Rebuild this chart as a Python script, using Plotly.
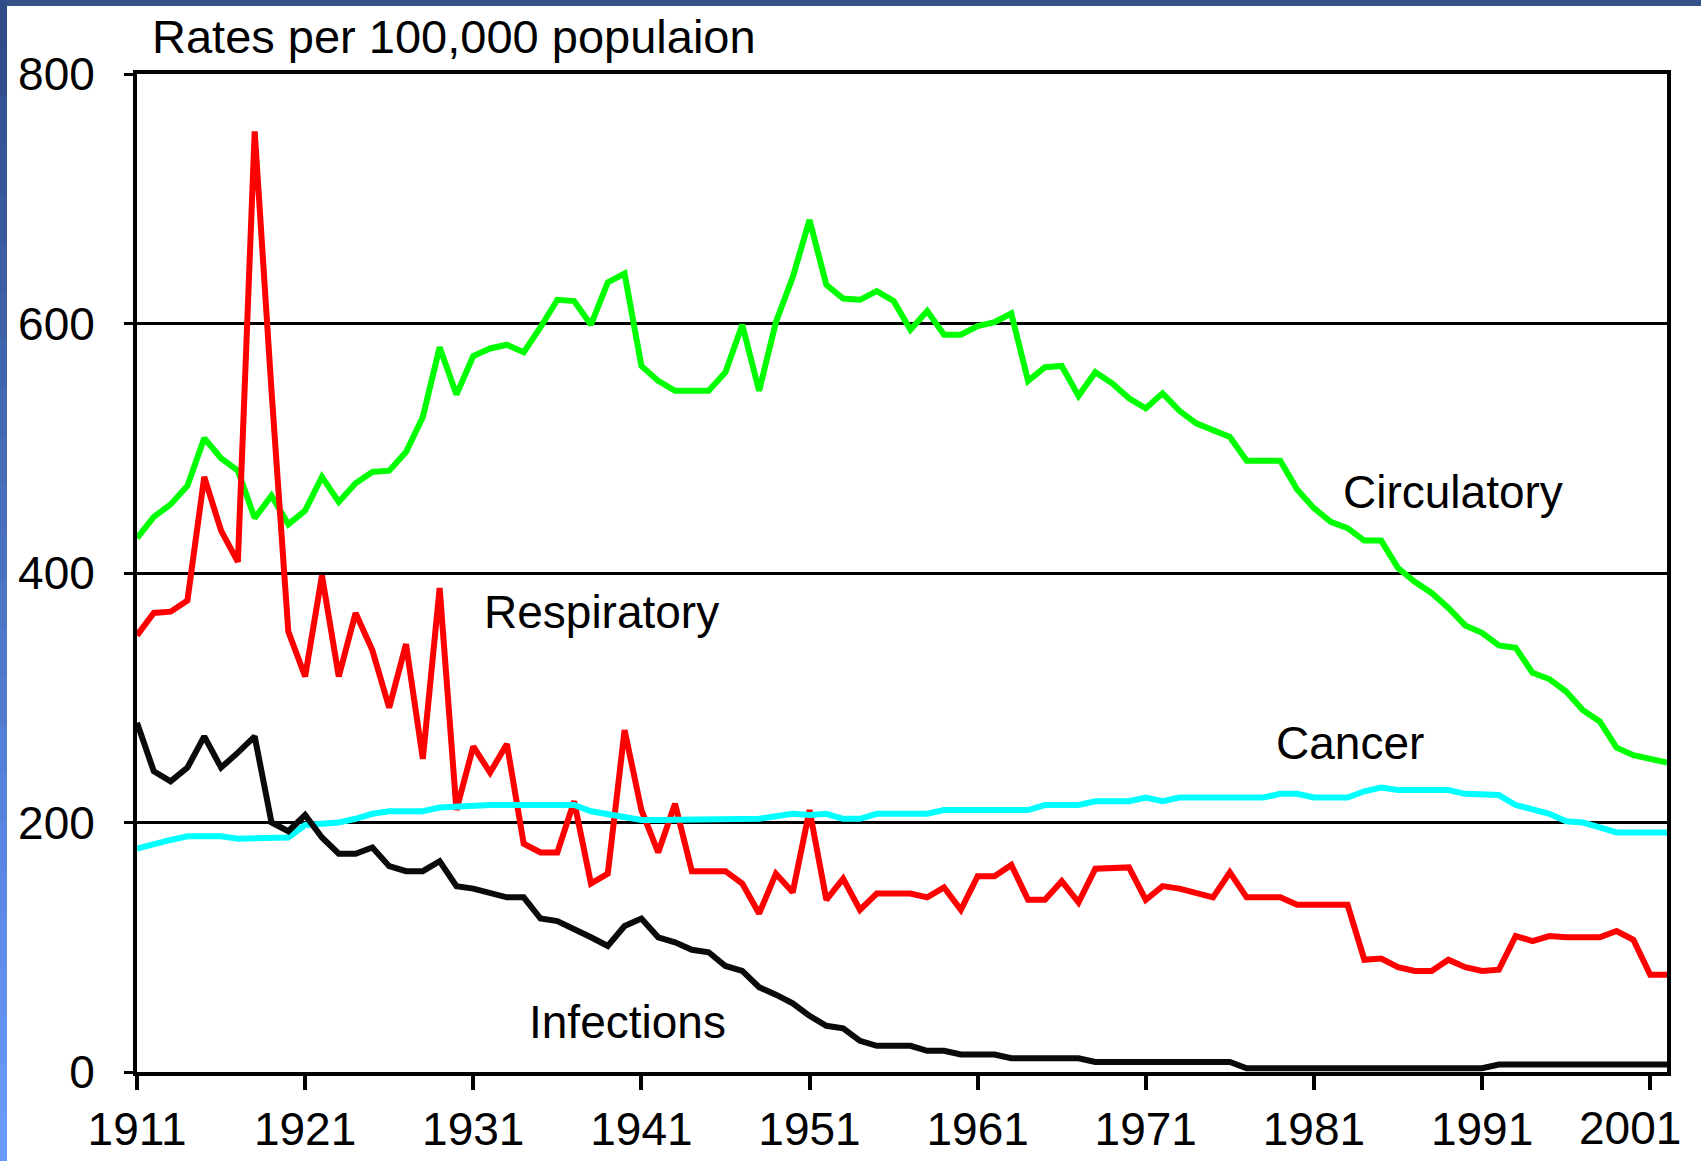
import plotly.graph_objects as go

years = list(range(1911, 2003))

circulatory = [
    428, 445, 455, 470, 508, 492, 482, 444, 462, 439,
    450, 477, 457, 472, 481, 482, 497, 525, 581, 543,
    574, 580, 583, 577, 597, 619, 618, 599, 633, 640,
    566, 554, 546, 546, 546, 561, 599, 546, 601, 637,
    683, 631, 620, 619, 626, 618, 595, 610, 591, 591,
    598, 601, 608, 554, 565, 566, 542, 561, 552, 540,
    532, 544, 530, 520, 514, 509, 490, 490, 490, 467,
    452, 441, 436, 426, 426, 404, 393, 384, 372, 358,
    352, 342, 340, 320, 315, 305, 290, 281, 260, 254,
    251, 248,
]

respiratory = [
    350, 368, 369, 378, 477, 434, 409, 754, 546, 353,
    317, 398, 317, 368, 338, 292, 343, 251, 388, 210,
    261, 240, 263, 183, 176, 176, 217, 151, 159, 274,
    210, 176, 215, 161, 161, 161, 151, 127, 159, 144,
    210, 138, 155, 130, 143, 143, 143, 140, 148, 130,
    157, 157, 166, 138, 138, 153, 136, 163, 164, 164,
    138, 149, 147, 143, 140, 160, 140, 140, 140, 134,
    134, 134, 134, 90, 91, 84, 81, 81, 90, 84,
    81, 82, 109, 105, 109, 108, 108, 108, 113, 106,
    78, 78,
]

cancer = [
    179, 183, 186, 189, 189, 189, 187, 187, 187, 188,
    198, 199, 200, 203, 207, 209, 209, 209, 212, 213,
    214, 214, 214, 214, 214, 214, 214, 209, 207, 205,
    202, 202, 202, 202, 202, 202, 202, 203, 205, 207,
    206, 207, 203, 203, 207, 207, 207, 207, 210, 210,
    210, 210, 210, 210, 214, 214, 214, 217, 217, 217,
    220, 217, 220, 220, 220, 220, 220, 220, 223, 223,
    220, 220, 220, 225, 228, 226, 226, 226, 226, 223,
    223, 222, 214, 210, 207, 201, 200, 196, 192, 192,
    192, 192,
]

infections = [
    280, 241, 233, 244, 269, 244, 256, 269, 200, 193,
    206, 188, 175, 175, 180, 165, 161, 161, 169, 149,
    147, 144, 140, 140, 123, 121, 115, 108, 101, 117,
    123, 108, 104, 98, 96, 85, 81, 68, 62, 55,
    45, 37, 35, 25, 21, 21, 21, 17, 17, 14,
    14, 14, 11, 11, 11, 11, 11, 8, 8, 8,
    8, 8, 8, 8, 8, 8, 3, 3, 3, 3,
    3, 3, 3, 3, 3, 3, 3, 3, 3, 3,
    3, 6, 6, 6, 6, 6, 6, 6, 6, 6,
    6, 6,
]

series_names = ["Circulatory", "Respiratory", "Cancer", "Infections"]
series_colors = ["#00FF00", "#FF0000", "#00FFFF", "#0A0A0A"]
series_values = [circulatory, respiratory, cancer, infections]

x_tick_vals = [1911, 1921, 1931, 1941, 1951, 1961, 1971, 1981, 1991, 2001]
x_tick_text = ["1911", "1921", "1931", "1941", "1951", "1961", "1971",
               "1981", "1991", ""]
last_tick_label = "2001"
y_tick_vals = [0, 200, 400, 600, 800]

FONT = "Liberation Sans, Arial, Helvetica, sans-serif"
W, H = 1701, 1161
ML, MR, MT, MB = 137, 34, 74, 89
PW, PH = W - ML - MR, H - MT - MB

fig = go.Figure()
for name, color, vals in zip(series_names, series_colors, series_values):
    fig.add_trace(go.Scatter(x=years, y=vals, mode="lines", name=name,
                             line=dict(color=color, width=6)))

labels = [
    ("Respiratory", 1931.5, 369),
    ("Infections", 1934.2, 40),
    ("Circulatory", 1982.6, 465),
    ("Cancer", 1978.6, 264),
]
for text, lx, ly in labels:
    fig.add_annotation(x=lx, y=ly, xref="x", yref="y", text=text,
                       showarrow=False, xanchor="left", yanchor="middle",
                       font=dict(family=FONT, size=46, color="black"))

def px_x(p):
    return (p - ML) / PW

def px_y(q):
    return (H - MB - q) / PH

fig.add_annotation(x=px_x(150), y=px_y(36), xref="paper", yref="paper",
                   text="Rates per 100,000 populaion", showarrow=False,
                   xanchor="left", yanchor="middle",
                   font=dict(family=FONT, size=47, color="black"))

# last x tick label, nudged left so it stays inside the figure (as in the original)
fig.add_annotation(x=x_tick_vals[-1], y=px_y(1128), xref="x", yref="paper",
                   xshift=-20, text=last_tick_label, showarrow=False,
                   xanchor="center", yanchor="middle",
                   font=dict(family=FONT, size=46, color="black"))

# decorative blue frame (top band + left gradient band)
shapes = []
shapes.append(dict(type="rect", xref="paper", yref="paper",
                   x0=px_x(0), x1=px_x(W), y0=px_y(6), y1=px_y(0),
                   fillcolor="#36528A", line=dict(width=0), layer="above"))
n = 24
top_c = (47, 76, 136)
bot_c = (104, 154, 255)
for i in range(n):
    t = i / (n - 1)
    c = tuple(int(round(top_c[k] + (bot_c[k] - top_c[k]) * t)) for k in range(3))
    q0 = H * i / n
    q1 = H * (i + 1) / n + 1
    shapes.append(dict(type="rect", xref="paper", yref="paper",
                       x0=px_x(0), x1=px_x(7), y0=px_y(q1), y1=px_y(q0),
                       fillcolor="rgb(%d,%d,%d)" % c, line=dict(width=0),
                       layer="above"))

fig.update_layout(
    width=W, height=H, autosize=False,
    margin=dict(l=ML, r=MR, t=MT, b=MB, pad=0, autoexpand=False),
    paper_bgcolor="white", plot_bgcolor="white",
    showlegend=False,
    shapes=shapes,
    font=dict(family=FONT, size=46, color="black"),
)
fig.update_xaxes(range=[1911, 2002], tickmode="array", tickvals=x_tick_vals,
                 ticktext=x_tick_text, automargin=False,
                 ticks="outside", ticklen=14, tickwidth=4, tickcolor="black",
                 showline=True, linewidth=4, linecolor="black", mirror=True,
                 showgrid=False, zeroline=False, ticklabelstandoff=0,
                 tickfont=dict(family=FONT, size=46, color="black"))
fig.update_yaxes(range=[0, 800], tickmode="array", tickvals=y_tick_vals,
                 automargin=False,
                 ticks="outside", ticklen=9, tickwidth=3, tickcolor="black",
                 showline=True, linewidth=4, linecolor="black", mirror=True,
                 showgrid=True, gridcolor="black", gridwidth=3,
                 zeroline=False, ticklabelstandoff=20,
                 tickfont=dict(family=FONT, size=46, color="black"))

fig.write_html("out.html", config={"displayModeBar": False},
               post_script="document.body.style.margin='0';document.body.style.overflow='hidden';")
